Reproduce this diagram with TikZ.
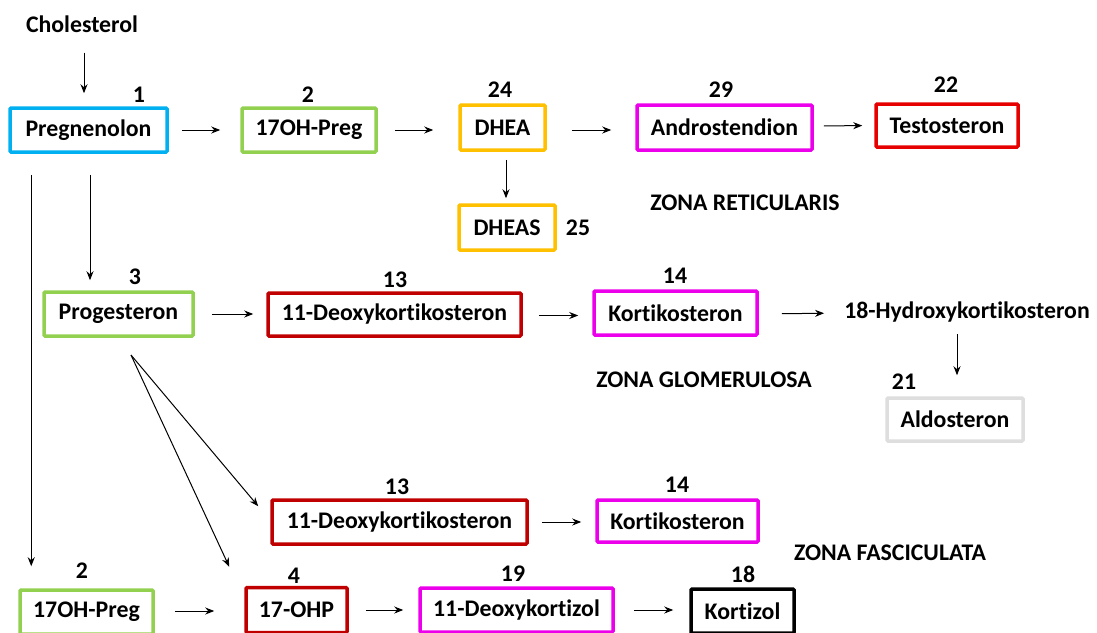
\documentclass[tikz,border=0pt]{standalone}
\usepackage{fontspec}
\setmainfont[Ligatures=NoCommon]{Carlito}
\usetikzlibrary{arrows.meta}
\definecolor{cblue}{RGB}{0,176,240}
\definecolor{cgreen}{RGB}{146,208,80}
\definecolor{cgold}{RGB}{255,192,0}
\definecolor{cmag}{RGB}{236,0,236}
\definecolor{cred}{RGB}{230,0,0}
\definecolor{cdred}{RGB}{192,0,0}
\definecolor{cgray}{RGB}{222,222,222}
\tikzset{
  box/.style={draw, line width=3.5pt, rounded corners=1pt, inner sep=0pt, font=\fontsize{23.8}{28}\selectfont\bfseries},
  lbl/.style={inner sep=0pt, font=\fontsize{23.8}{28}\selectfont\bfseries},
  arr/.style={-{Stealth[length=9pt,width=7pt]}, line width=1pt},
}
\begin{document}
\begin{tikzpicture}[x=1pt,y=-1pt]
\useasboundingbox (0,0) rectangle (1097,632);
\fill[white] (0,0) rectangle (1097,632);
% top row
\node[lbl] (chol) at (82,24) {Cholesterol};
\node[box, cblue, text=black, minimum width=157pt, minimum height=44pt] (preg) at (88.5,130) {Pregnenolon};
\node[lbl] (n1) at (139,95) {1};
\node[box, cgreen, text=black, minimum width=134pt, minimum height=44pt] (ohpreg) at (309,130) {17OH-Preg};
\node[lbl] (n2) at (308,95) {2};
\node[box, cgold, text=black, minimum width=85pt, minimum height=45pt] (dhea) at (502.5,127.5) {DHEA};
\node[lbl] (n24) at (500,90) {24};
\node[box, cgold, text=black, minimum width=96pt, minimum height=45pt] (dheas) at (507,227.5) {DHEAS};
\node[lbl] (n25) at (578,228) {25};
\node[box, cmag, text=black, minimum width=175pt, minimum height=45pt] (andro) at (724.5,127.5) {Androstendion};
\node[lbl] (n29) at (721,90) {29};
\node[box, cred, text=black, minimum width=142pt, minimum height=43pt] (testo) at (947,125.5) {Testosteron};
\node[lbl] (n22) at (946,85) {22};
\node[lbl] (zr) at (745,203) {ZONA RETICULARIS};
% glomerulosa row
\node[box, cgreen, text=black, minimum width=149pt, minimum height=44pt] (proge) at (118.5,314) {Progesteron};
\node[lbl] (n3) at (135,277) {3};
\node[box, cdred, text=black, minimum width=253pt, minimum height=43pt] (doc1) at (394.5,314.5) {11-Deoxykortikosteron};
\node[lbl] (n13a) at (395,280) {13};
\node[box, cmag, text=black, minimum width=163pt, minimum height=44pt] (kort1) at (675.5,313) {Kortikosteron};
\node[lbl] (n14a) at (675,276) {14};
\node[lbl] (hydro) at (967,312) {18-Hydroxykortikosteron};
\node[box, cgray, text=black, minimum width=136pt, minimum height=43pt] (aldo) at (955,419.5) {Aldosteron};
\node[lbl] (n21) at (904,382) {21};
\node[lbl] (zg) at (704,380) {ZONA GLOMERULOSA};
% fasciculata
\node[box, cdred, text=black, minimum width=255pt, minimum height=44pt] (doc2) at (399.5,522) {11-Deoxykortikosteron};
\node[lbl] (n13b) at (397,487) {13};
\node[box, cmag, text=black, minimum width=161pt, minimum height=42pt] (kort2) at (677.5,521) {Kortikosteron};
\node[lbl] (n14b) at (677,485) {14};
\node[lbl] (zf) at (890,553) {ZONA FASCICULATA};
\node[box, cgreen, text=black, minimum width=133pt, minimum height=44pt] (ohpregB) at (86.5,612) {17OH-Preg};
\node[lbl] (n2b) at (82,571) {2};
\node[box, cdred, text=black, minimum width=101pt, minimum height=45pt] (ohp) at (296.5,610) {17-OHP};
\node[lbl] (n4) at (294,576) {4};
\node[box, cmag, text=black, minimum width=193pt, minimum height=44pt] (dkz) at (516.5,610) {11-Deoxykortizol};
\node[lbl] (n19) at (513,574) {19};
\node[box, black, text=black, minimum width=103pt, minimum height=44pt] (kz) at (742.5,611) {Kortizol};
\node[lbl] (n18) at (743,574) {18};
\coordinate (fan) at (131,355);
% arrows
\draw[arr] ([xshift=2pt,yshift=-20pt]chol.south) -- ([xshift=-4.5pt,yshift=13pt]preg.north);
\draw[arr, shorten <=13pt, shorten >=20pt] (preg.east) -- (ohpreg.west |- preg.east);
\draw[arr, shorten <=17pt, shorten >=25pt] (ohpreg.east) -- (dhea.west |- ohpreg.east);
\draw[arr] ([xshift=3.5pt,yshift=-8pt]dhea.south) -- ([xshift=-1pt,yshift=5pt]dheas.north);
\draw[arr, shorten <=25pt, shorten >=24pt] ([yshift=-2.5pt]dhea.east) -- ([yshift=-2.5pt]andro.west);
\draw[arr, shorten <=10pt, shorten >=12pt] ([yshift=1.5pt]andro.east) -- (testo.west);
\draw[arr] ([xshift=1.5pt,yshift=-21pt]preg.south) -- ([xshift=-28.5pt,yshift=10pt]proge.north);
\draw[arr] ([xshift=23pt,yshift=-21pt]preg.south west) -- ([xshift=13pt,yshift=22pt]ohpregB.north west);
\draw[arr, shorten <=17pt, shorten >=13pt] (proge.east) -- (doc1.west |- proge.east);
\draw[arr, shorten <=16pt, shorten >=14pt] ([yshift=-1pt]doc1.east) -- ([yshift=-1pt]kort1.west |- doc1.east);
\draw[arr, shorten <=23pt, shorten >=20pt] ([yshift=-1pt]kort1.east) -- (hydro.west |- kort1.east);
\draw[arr] ([xshift=-10pt,yshift=-12pt]hydro.south) -- ([xshift=2pt,yshift=21pt]aldo.north);
\draw[arr] (fan) -- ([xshift=-12pt,yshift=-8pt]doc2.north west);
\draw[arr] (fan) -- ([xshift=-15pt,yshift=19pt]ohp.north west);
\draw[arr, shorten <=13pt, shorten >=14pt] (doc2.east) -- (kort2.west |- doc2.east);
\draw[arr, shorten <=20pt, shorten >=30pt] ([yshift=1pt]ohpregB.east) -- ([yshift=1pt]ohp.west |- ohpregB.east);
\draw[arr, shorten <=17pt, shorten >=15pt] (ohp.east) -- (dkz.west |- ohp.east);
\draw[arr, shorten <=19pt, shorten >=16pt] (dkz.east) -- (kz.west |- dkz.east);
\end{tikzpicture}
\end{document}
